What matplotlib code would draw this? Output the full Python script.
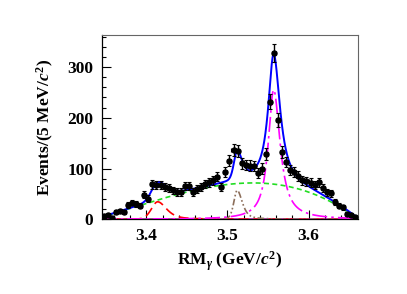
import numpy as np
import matplotlib
matplotlib.use("Agg")
import matplotlib.pyplot as plt
from matplotlib.ticker import MultipleLocator

plt.rcParams['font.family'] = ['Liberation Serif', 'DejaVu Serif']
plt.rcParams['font.weight'] = 'bold'
plt.rcParams['mathtext.fontset'] = 'custom'
plt.rcParams['mathtext.rm'] = 'Liberation Serif:bold'
plt.rcParams['mathtext.it'] = 'Liberation Serif:italic:bold'
plt.rcParams['mathtext.bf'] = 'Liberation Serif:bold'

# ---- data (5 MeV bins) ----
bin_lo = 3.345
bin_width = 0.005
counts = [6, 9, 3, 14, 17, 14, 28, 33, 30, 27,
          48, 41, 69, 67, 67, 63, 61, 57, 54, 54,
          65, 66, 54, 59, 64, 70, 73, 77, 84, 64,
          93, 115, 136, 135, 110, 107, 106, 105, 91, 100,
          129, 232, 328, 195, 133, 113, 97, 93, 85, 77,
          75, 72, 68, 73, 61, 53, 51, 35, 27, 24,
          11, 9, 4]

# ---- fit components (parameters) ----
chic0 = dict(mu=3.414, h=34.5, wl=0.009, wr=0.013, el=0.15, er=0.6)
chic1 = dict(mu=3.512, h=57.0, wl=0.0048, wr=0.0075, el=0.3, er=0.6)
chic2 = dict(mu=3.557, h=255.0, wl=0.008, wr=0.0095, el=0.95, er=0.95)
bkg_par = dict(A=2585.0, a=3.335, b=3.661, s=2.84)
flat_other = 0.0

x_range = (3.345, 3.661)
y_range = (0, 363)
xticks = [3.4, 3.5, 3.6]
yticks = [0, 100, 200, 300]


def peak(x, mu, h, wl, wr, el, er):
    w = np.where(x < mu, wl, wr)
    eta = np.where(x < mu, el, er)
    u = ((x - mu) / w) ** 2
    return h * (eta / (1 + u) + (1 - eta) * np.exp(-np.log(2) * u))


def bkg(x, A, a, b, s):
    return np.clip(A * (x - a) * (b - x) * (1 + s * (x - 3.5)), 0, None)


counts = np.array(counts, dtype=float)
centers = bin_lo + bin_width * (np.arange(len(counts)) + 0.5)
xx = np.linspace(x_range[0], x_range[1], 2000)
c0 = peak(xx, **chic0)
c1 = peak(xx, **chic1)
c2 = peak(xx, **chic2)
bg = bkg(xx, **bkg_par)
other = np.full_like(xx, flat_other)
total = c0 + c1 + c2 + bg + other

fig = plt.figure(figsize=(4.07, 2.94), dpi=100)
ax = fig.add_axes([0.2499, 0.254, 0.6297, 0.6269])

ax.plot(xx, other, color='#aa00aa', lw=1.5, zorder=2)
ax.plot(xx, c0, color='#ff0000', lw=1.2, dashes=(6, 3), zorder=3)
ax.plot(xx, c1, color='#8c6e5a', lw=1.2, dashes=(4, 1.5, 1, 1.5, 1, 1.5), zorder=3)
ax.plot(xx, c2, color='#ff00ff', lw=1.2, dashes=(9, 2.5, 1.5, 2.5), zorder=3)
ax.plot(xx, bg, color='#22dd22', lw=1.2, dashes=(3, 2), zorder=3)
ax.plot(xx, total, color='#0000ff', lw=1.4, zorder=4)

ax.errorbar(centers, counts, yerr=np.sqrt(counts), xerr=bin_width / 2,
            fmt='o', color='black', ms=3.6, elinewidth=1.0, capsize=1.2,
            capthick=0.8, zorder=5)

ax.set_xlim(*x_range)
ax.set_ylim(*y_range)
ax.set_xticks(xticks)
ax.set_yticks(yticks)
ax.xaxis.set_minor_locator(MultipleLocator(0.02))
ax.yaxis.set_minor_locator(MultipleLocator(20))
ax.tick_params(which='both', direction='in', top=False, right=False,
               labelsize=12.5, pad=6)
ax.tick_params(which='major', length=6.5, width=0.8)
ax.tick_params(which='minor', length=3.2, width=0.8)
for lab in ax.get_xticklabels() + ax.get_yticklabels():
    lab.set_fontweight('bold')

for side in ['top', 'right']:
    ax.spines[side].set_color('#666666')
    ax.spines[side].set_linewidth(0.8)
for side in ['left', 'bottom']:
    ax.spines[side].set_linewidth(0.9)

ax.set_xlabel(r'RM$_{\gamma}$ (GeV/$\mathit{c}^{2}$)', fontsize=12.5,
              fontweight='bold', labelpad=4)
ax.set_ylabel(r'Events/(5 MeV/$\mathit{c}^{2}$)', fontsize=12.5,
              fontweight='bold', labelpad=8)

fig.savefig('out.png', dpi=100)
